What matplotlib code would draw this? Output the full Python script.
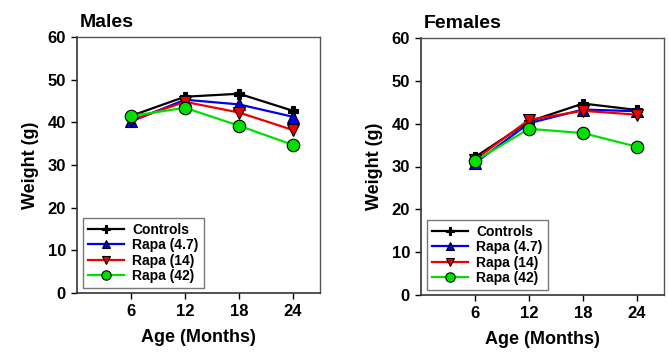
import matplotlib
matplotlib.use("Agg")
import matplotlib.pyplot as plt

ages = [6, 12, 18, 24]
series_names = ["Controls", "Rapa (4.7)", "Rapa (14)", "Rapa (42)"]

males_controls = [41.5, 46.0, 46.7, 42.7]
males_rapa47 = [40.2, 45.3, 44.2, 41.3]
males_rapa14 = [40.5, 44.8, 42.3, 38.2]
males_rapa42 = [41.5, 43.4, 39.2, 34.7]

females_controls = [32.2, 40.5, 44.7, 43.2]
females_rapa47 = [30.8, 40.1, 43.3, 42.9]
females_rapa14 = [31.6, 40.9, 43.0, 42.1]
females_rapa42 = [31.3, 38.8, 37.8, 34.6]

y_ticks = [0, 10, 20, 30, 40, 50, 60]

colors = ["black", "#0000ee", "#ee0000", "#00e000"]
markers = ["P", "^", "v", "o"]
msizes = [7, 8, 8, 9]

plt.rcParams['font.family'] = ['Liberation Sans', 'DejaVu Sans']
plt.rcParams['font.weight'] = 'bold'

fig = plt.figure(figsize=(6.69, 3.53), dpi=100)
ax1 = fig.add_axes([77/669, 1-293/353, 243/669, 256/353])
ax2 = fig.add_axes([421/669, 1-295/353, 243/669, 257/353])

def draw(ax, data, title):
    for name, vals, c, m, ms in zip(series_names, data, colors, markers, msizes):
        ax.plot(ages, vals, color=c, marker=m, markersize=ms, markerfacecolor=c,
                markeredgecolor='black', markeredgewidth=0.8, linewidth=1.6, label=name)
    ax.set_xlim(0, 27)
    ax.set_ylim(0, 60)
    ax.set_xticks(ages)
    ax.set_yticks(y_ticks)
    ax.tick_params(direction='out', length=4, width=1, labelsize=12, pad=4)
    for lab in ax.get_xticklabels() + ax.get_yticklabels():
        lab.set_fontweight('bold')
    ax.set_xlabel("Age (Months)", fontsize=13, fontweight='bold', labelpad=7)
    ax.set_ylabel("Weight (g)", fontsize=13, fontweight='bold', labelpad=6)
    ax.set_title(title, fontsize=14, fontweight='bold', loc='left', x=0.01, pad=7)
    for side in ['left', 'bottom']:
        ax.spines[side].set_color('#333333')
        ax.spines[side].set_linewidth(1.2)
    for side in ['top', 'right']:
        ax.spines[side].set_color('#555555')
        ax.spines[side].set_linewidth(1.0)
    leg = ax.legend(loc='lower left', bbox_to_anchor=(0.025, 0.02), fontsize=10,
                    frameon=True, fancybox=False, edgecolor='#555555',
                    handlelength=2.6, handletextpad=0.6, labelspacing=0.1,
                    borderpad=0.35, borderaxespad=0.0, markerscale=0.75)
    leg.get_frame().set_linewidth(1.0)
    for t in leg.get_texts():
        t.set_fontweight('bold')

draw(ax1, [males_controls, males_rapa47, males_rapa14, males_rapa42], "Males")
draw(ax2, [females_controls, females_rapa47, females_rapa14, females_rapa42], "Females")

fig.savefig("out.png", dpi=100)
